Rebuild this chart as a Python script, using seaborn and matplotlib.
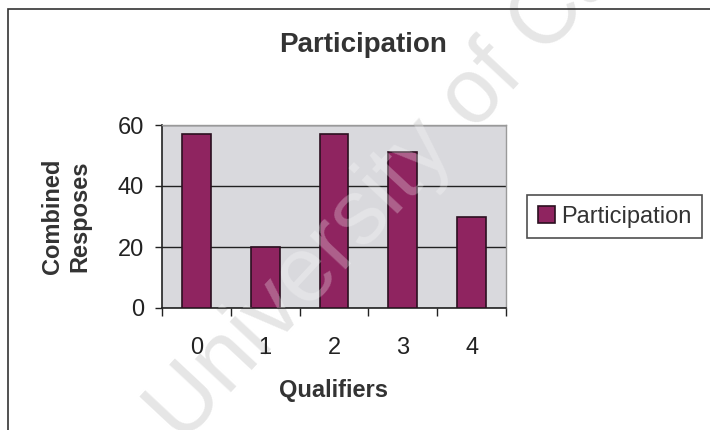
import matplotlib
matplotlib.use("Agg")
import matplotlib.pyplot as plt
import matplotlib.patches as mpatches
import seaborn as sns
import pandas as pd

# Data
qualifiers = ["0", "1", "2", "3", "4"]
responses = [57, 20, 57, 51, 30]
series_name = "Participation"
y_ticks = [0, 20, 40, 60]

sns.set_theme(style="white")
plt.rcParams["font.family"] = ["Liberation Sans", "DejaVu Sans"]

W, H = 710, 430
fig = plt.figure(figsize=(W / 100, H / 100), dpi=100)
fig.patch.set_facecolor("white")

# plot area in pixel coordinates
left, right, top, bottom = 162, 506, 125, 308
ax = fig.add_axes([left / W, 1 - bottom / H, (right - left) / W, (bottom - top) / H])
ax.set_facecolor("#D9D9DD")

df = pd.DataFrame({"Qualifiers": qualifiers, "Responses": responses})
sns.barplot(data=df, x="Qualifiers", y="Responses", color="#8F2460",
            saturation=1, width=0.42, edgecolor="#2B1020", linewidth=1.2,
            ax=ax, zorder=3, label=series_name)
handles, labels = ax.get_legend_handles_labels()
if ax.get_legend() is not None:
    ax.get_legend().remove()

ax.set_ylim(0, 60)
ax.set_xlim(-0.5, 4.5)
ax.set_yticks(y_ticks)
ax.yaxis.grid(True, color="#222222", linewidth=1.0, zorder=1)
ax.set_axisbelow(True)

# category labels centred, tick marks between categories
ax.set_xticks(range(len(qualifiers)))
ax.set_xticklabels(qualifiers)
ax.set_xticks([i - 0.5 for i in range(len(qualifiers) + 1)], minor=True)
ax.tick_params(axis="x", which="major", length=0, pad=21, labelsize=17, labelcolor="#222222")
ax.tick_params(axis="x", which="minor", length=6, width=1, color="#222222", direction="out", bottom=True)
ax.tick_params(axis="y", which="major", length=5, width=1, color="#222222", direction="out",
               left=True, pad=8, labelsize=17, labelcolor="#222222")

for side in ("left", "bottom"):
    ax.spines[side].set_color("#222222")
    ax.spines[side].set_linewidth(1.2)
for side in ("top", "right"):
    ax.spines[side].set_color("#9A9A9A")
    ax.spines[side].set_linewidth(1.0)

ax.set_xlabel("Qualifiers", fontsize=17, fontweight="bold", color="#333333")
ax.xaxis.set_label_coords(0.5, -0.39)
ax.set_ylabel("Combined\nResposes", fontsize=17, fontweight="bold", color="#333333",
              linespacing=1.25)
ax.yaxis.set_label_coords(-0.205, 0.5)

fig.text(363 / W, 1 - 45 / H, "Participation", ha="center", va="center",
         fontsize=20, fontweight="bold", color="#333333")

# legend box at the right
leg = fig.legend(handles, labels, loc="upper left", bbox_to_anchor=(527 / W, 1 - 195 / H),
                 frameon=True, fancybox=False, fontsize=17, handlelength=0.75,
                 handleheight=0.75, handletextpad=0.25, borderpad=0.45, borderaxespad=0)
leg.get_frame().set_edgecolor("#222222")
leg.get_frame().set_linewidth(1.2)
for t in leg.get_texts():
    t.set_color("#333333")

# outer chart frame
frame = mpatches.Rectangle((8 / W, -0.1), 1.2, 1 - 9 / H + 0.1, transform=fig.transFigure,
                           fill=False, edgecolor="#333333", linewidth=1.2, zorder=10)
fig.add_artist(frame)

# watermark: grey on the page, lighter over the plot area
wm = "University of Cape Town"
wx, wy, rot = 182 / W, 1 - 445 / H, 47
fig.text(wx, wy, wm, rotation=rot, rotation_mode="anchor", ha="left", va="baseline",
         fontsize=66, color="#E6E6E6", zorder=-1)
wt = fig.text(wx, wy, wm, rotation=rot, rotation_mode="anchor", ha="left", va="baseline",
              fontsize=66, color="white", alpha=0.28, zorder=20)
wt.set_clip_path(ax.patch)

fig.savefig("out.png", dpi=100, facecolor="white")
